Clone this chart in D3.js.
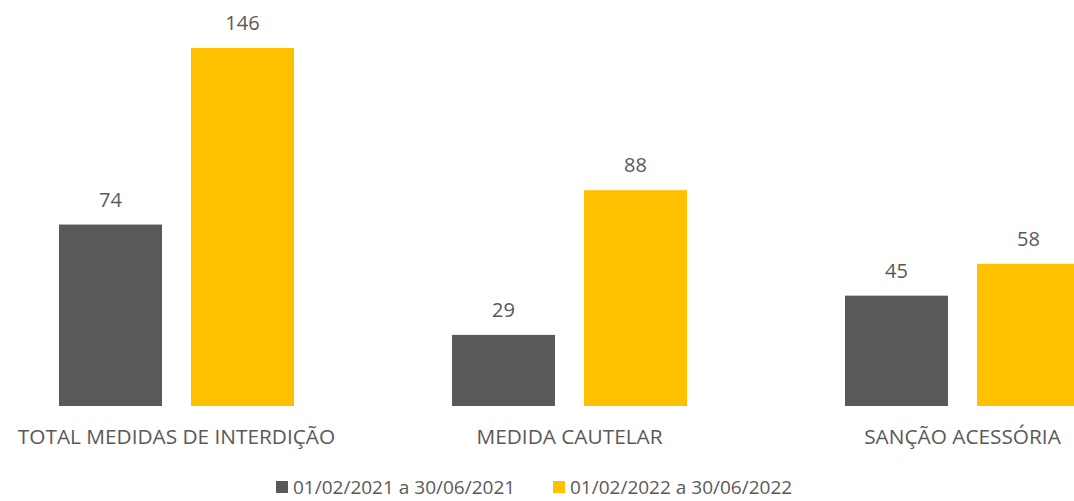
<!DOCTYPE html>
<html>
<head>
<meta charset="utf-8">
<script src="https://cdn.jsdelivr.net/npm/d3@7"></script>
<style>
  html, body { margin: 0; padding: 0; background: #ffffff; }
  svg text { font-family: "Open Sans", "Noto Sans", sans-serif; fill: #595959; }
</style>
</head>
<body>
<div id="chart"></div>
<script>
// Chart data.
const categories = [ 'TOTAL MEDIDAS DE INTERDIÇÃO', 'MEDIDA CAUTELAR', 'SANÇÃO ACESSÓRIA' ];
const series_names = [ '01/02/2021 a 30/06/2021', '01/02/2022 a 30/06/2022' ];
const values_2021 = [ 74, 29, 45 ];
const values_2022 = [ 146, 88, 58 ];
const series_colors = [ '#595959', '#FFC000' ];

const width = 1074, height = 501;
const baseline = 406;

const svg = d3.select( '#chart' )
  .append( 'svg' )
    .attr( 'width', width )
    .attr( 'height', height );

// Group scale, the plot area is a bit wider than the page (as in the original).
const x0 = d3.scaleBand()
  .domain( categories )
  .range( [ -20, 1159 ] )
  .paddingInner( 0.402 )
  .paddingOuter( 0.201 );

const x1 = d3.scaleBand()
  .domain( series_names )
  .range( [ 0, x0.bandwidth() ] )
  .paddingInner( 0.22 );

const y = d3.scaleLinear()
  .domain( [ 0, 146 ] )
  .range( [ baseline, 48 ] );

const rows = categories.map( ( c, i ) => ({
  cat: c,
  vals: [ values_2021[i], values_2022[i] ]
}));

const groups = svg.selectAll( 'g.group' )
  .data( rows )
  .enter()
  .append( 'g' )
    .attr( 'class', 'group' )
    .attr( 'transform', d => 'translate(' + x0( d.cat ) + ',0)' );

const cells = groups.selectAll( 'g.cell' )
  .data( d => d.vals.map( ( v, j ) => ({ name: series_names[j], v: v, j: j }) ) )
  .enter()
  .append( 'g' )
    .attr( 'class', 'cell' );

cells.append( 'rect' )
  .attr( 'x', d => x1( d.name ) )
  .attr( 'y', d => y( d.v ) )
  .attr( 'width', x1.bandwidth() )
  .attr( 'height', d => baseline - y( d.v ) )
  .attr( 'fill', d => series_colors[d.j] );

// Value labels above bars.
cells.append( 'text' )
  .attr( 'x', d => x1( d.name ) + x1.bandwidth() / 2 )
  .attr( 'y', d => y( d.v ) - 18 )
  .attr( 'text-anchor', 'middle' )
  .style( 'font-size', '20px' )
  .text( d => d.v );

// Category axis labels.
const xAxis = svg.append( 'g' )
  .attr( 'transform', 'translate(0,' + baseline + ')' )
  .call( d3.axisBottom( x0 ).tickSize( 0 ).tickPadding( 0 ) );
xAxis.select( '.domain' ).remove();
xAxis.selectAll( 'text' )
  .attr( 'dy', null )
  .attr( 'y', 38 )
  .style( 'font-size', '20.8px' )
  .style( 'font-family', '"Open Sans", sans-serif' )
  .attr( 'fill', '#595959' );

// Legend.
const legend = svg.append( 'g' ).attr( 'transform', 'translate(276,494)' );
const legend_x = [ 0, 277 ];
series_names.forEach( ( name, i ) => {
  const item = legend.append( 'g' ).attr( 'transform', 'translate(' + legend_x[i] + ',0)' );
  item.append( 'rect' )
    .attr( 'x', 0 )
    .attr( 'y', -13 )
    .attr( 'width', 12 )
    .attr( 'height', 12 )
    .attr( 'fill', series_colors[i] );
  item.append( 'text' )
    .attr( 'x', 17 )
    .attr( 'y', 0 )
    .style( 'font-size', '19px' )
    .text( name );
});
</script>
</body>
</html>
